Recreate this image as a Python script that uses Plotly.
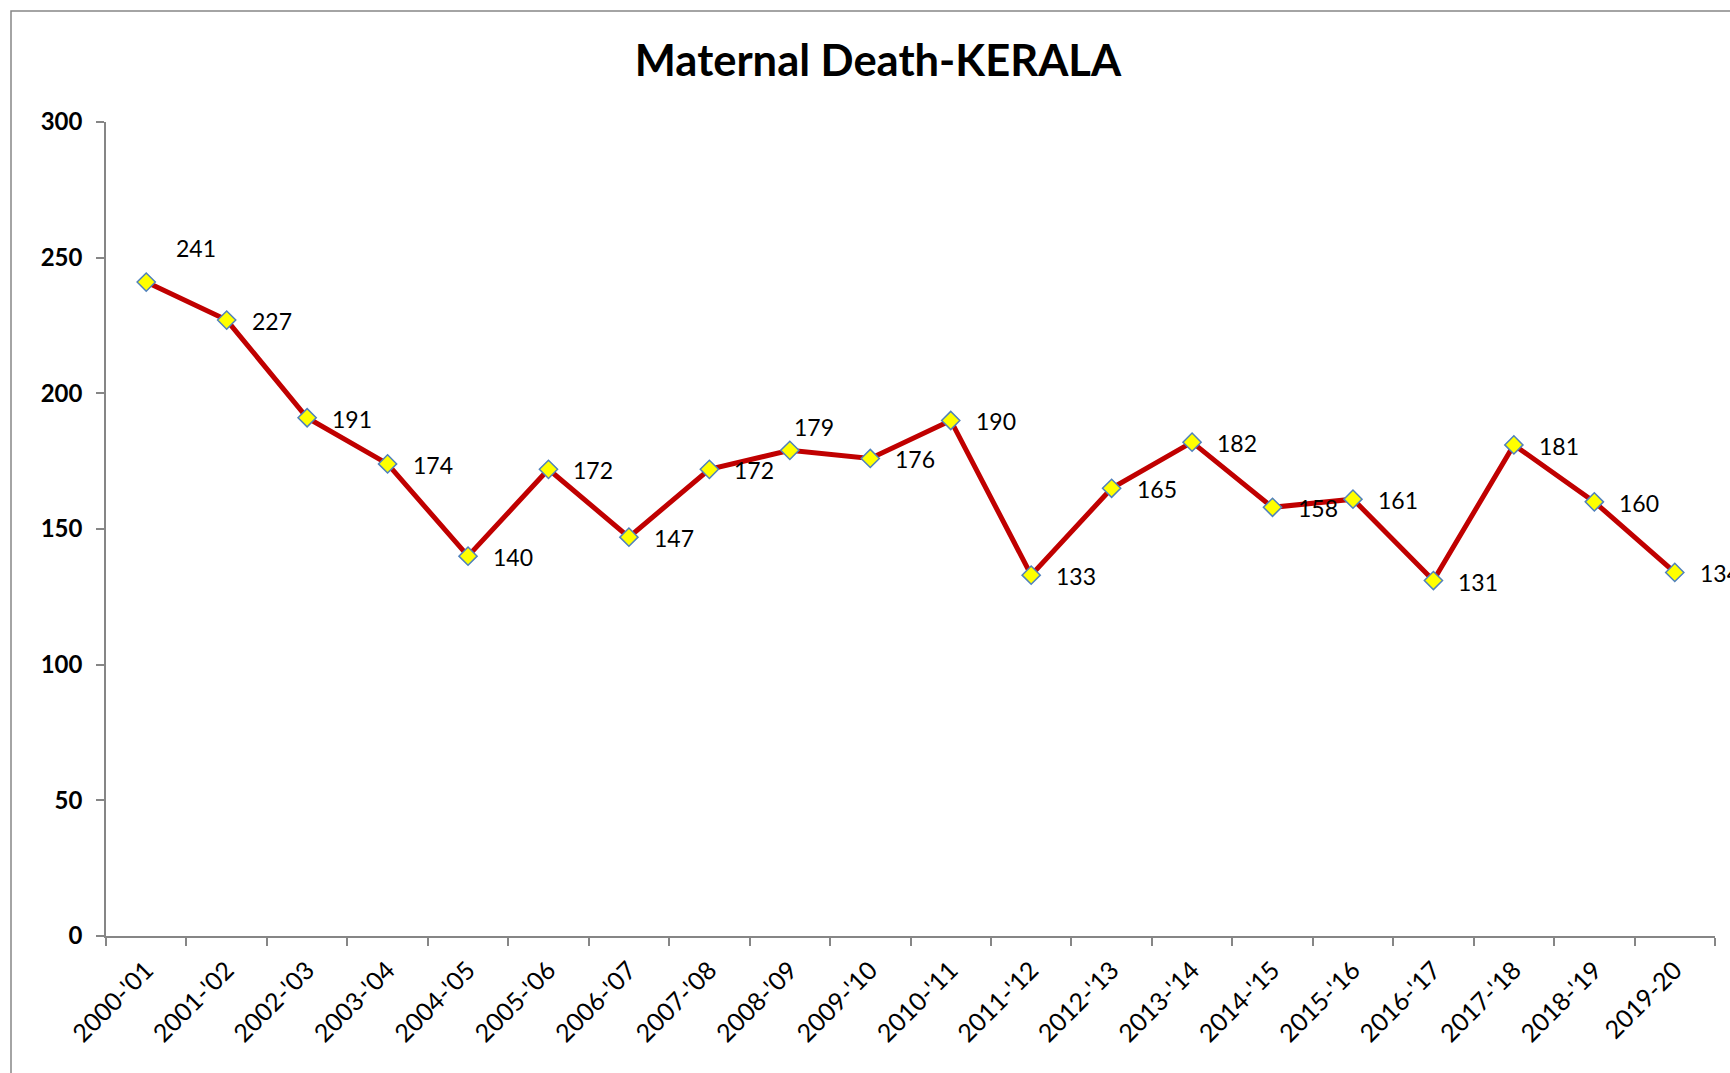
import plotly.graph_objects as go

# Financial years and recorded maternal deaths in Kerala
years = ["2000-'01", "2001-'02", "2002-'03", "2003-'04", "2004-'05", "2005-'06",
         "2006-'07", "2007-'08", "2008-'09", "2009-'10", "2010-'11", "2011-'12",
         "2012-'13", "2013-'14", "2014-'15", "2015-'16", "2016-'17", "2017-'18",
         "2018-'19", "2019-20"]
deaths = [241, 227, 191, 174, 140, 172, 147, 172, 179, 176, 190, 133,
          165, 182, 158, 161, 131, 181, 160, 134]
y_ticks = [0, 50, 100, 150, 200, 250, 300]

# Label placement (pixel shifts) for each data label
label_dx = [28] + [23] * 7 + [2] + [23] * 11
label_dy = [34] + [-1] * 7 + [23] + [-1] * 11

FONT = "Lato, Carlito, Calibri, sans-serif"
W, H = 1730, 1073
L, R, T, B = 106, 15, 122, 137

fig = go.Figure()
fig.add_trace(go.Scatter(
    x=years, y=deaths, mode="lines+markers",
    line=dict(color="#c00000", width=5),
    marker=dict(symbol="diamond", size=14, color="#ffff00",
                line=dict(color="#4f81bd", width=1.5)),
    cliponaxis=False, showlegend=False, hoverinfo="x+y",
))

for i, (yr, v) in enumerate(zip(years, deaths)):
    fig.add_annotation(x=yr, y=v, text=str(v), showarrow=False,
                       xanchor="left", yanchor="middle",
                       xshift=label_dx[i], yshift=label_dy[i],
                       font=dict(family=FONT, size=23, color="#000000"))

# Outer chart border
pw = W - L - R
ph = H - T - B
fig.add_shape(type="rect", xref="paper", yref="paper",
              x0=(11 - L) / pw, x1=(W + 40 - L) / pw,
              y0=-(B + 40) / ph, y1=(H - 11 - B) / ph,
              line=dict(color="#868686", width=1.5), fillcolor="rgba(0,0,0,0)",
              layer="below")

fig.update_layout(
    width=W, height=H,
    margin=dict(l=L, r=R, t=T, b=B, autoexpand=False),
    paper_bgcolor="#ffffff", plot_bgcolor="#ffffff",
    title=dict(text="Maternal Death-KERALA", xref="container", yref="container",
               x=878 / W, y=1 - 61 / H, xanchor="center", yanchor="middle",
               font=dict(family=FONT, size=43.5, color="#000000", weight="bold")),
    xaxis=dict(type="category", range=[-0.5, len(years) - 0.5],
               showline=True, linecolor="#868686", linewidth=1.5,
               ticks="outside", tickson="boundaries", ticklen=8,
               tickcolor="#868686", tickwidth=1.5, tickangle=-45,
               ticklabelstandoff=8,
               showgrid=False, zeroline=False,
               tickfont=dict(family=FONT, size=25, color="#000000")),
    yaxis=dict(range=[0, 300], tickvals=y_ticks, showline=True,
               linecolor="#868686", linewidth=1.5, ticks="outside", ticklen=8,
               tickcolor="#868686", tickwidth=1.5, showgrid=False, zeroline=False,
               ticklabelstandoff=9,
               tickfont=dict(family=FONT, size=24, color="#000000", weight="bold")),
)

fig.write_html("out.html")
